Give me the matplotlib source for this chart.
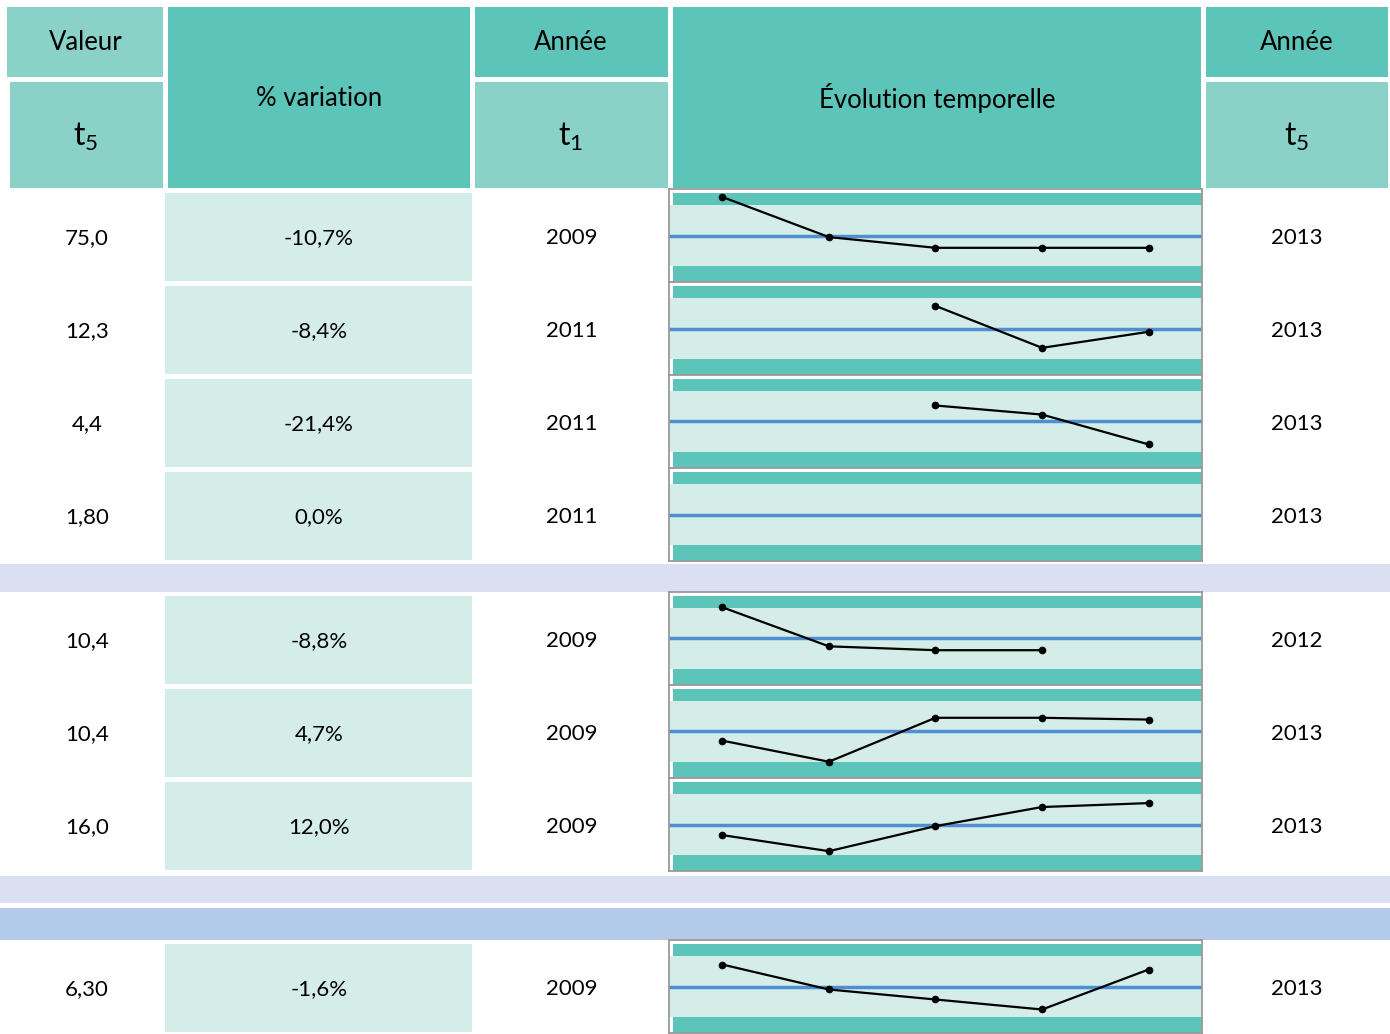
import numpy as np
import matplotlib
matplotlib.use("Agg")
import matplotlib.pyplot as plt
from matplotlib.patches import Rectangle

plt.rcParams['font.family'] = ['Lato', 'DejaVu Sans']
plt.rcParams['mathtext.fontset'] = 'custom'
plt.rcParams['mathtext.rm'] = 'Lato'

# données du tableau
valeurs = ["75,0", "12,3", "4,4", "1,80", "10,4", "10,4", "16,0", "6,30"]
variations = ["-10,7%", "-8,4%", "-21,4%", "0,0%", "-8,8%", "4,7%", "12,0%", "-1,6%"]
annee_t1 = [2009, 2011, 2011, 2011, 2009, 2009, 2009, 2009]
annee_t5 = [2013, 2013, 2013, 2013, 2012, 2013, 2013, 2013]

# séries temporelles (2009-2013), nan = pas de valeur
annees = [2009, 2010, 2011, 2012, 2013]
nan = np.nan
series = [
    [84.0, 76.9, 75.0, 75.0, 75.0],
    [nan, nan, 13.43, 11.6, 12.3],
    [nan, nan, 5.6, 5.32, 4.4],
    [nan, nan, nan, nan, nan],
    [11.4, 10.49, 10.4, 10.4, nan],
    [9.93, 9.46, 10.44, 10.44, 10.4],
    [14.29, 13.43, 14.77, 15.79, 16.0],
    [6.40, 5.90, 5.70, 5.50, 6.30],
]
# demi-largeur de la zone claire autour de la moyenne
limites = [5.4, 1.33, 0.94, 0.1, 0.71, 0.68, 1.63, 0.61]
centre_vide = [None, None, None, 1.80, None, None, None, None]

W, H = 1390, 1034
TEAL = "#5CC4B8"
TEAL_L = "#8AD1C7"
PALE = "#D5EDE8"
BLEU = "#4F8FD0"
LAVANDE = "#DAE0F2"
BLEU_L = "#B4CAE9"

fig = plt.figure(figsize=(W / 100, H / 100), dpi=100)
ax = fig.add_axes([0, 0, 1, 1])
ax.set_xlim(0, W)
ax.set_ylim(H, 0)
ax.axis('off')


def rect(x0, y0, x1, y1, color):
    ax.add_patch(Rectangle((x0, y0), x1 - x0, y1 - y0, color=color, lw=0))


# en-têtes
rect(7, 7, 163, 77, TEAL_L)
rect(10, 82, 163, 188, TEAL_L)
rect(168, 7, 470, 188, TEAL)
rect(475, 7, 668, 77, TEAL)
rect(475, 82, 668, 188, TEAL_L)
rect(673, 7, 1201, 188, TEAL)
rect(1206, 7, 1388, 77, TEAL)
rect(1206, 82, 1388, 188, TEAL_L)

hfs = 18.5
ax.text(86, 43, "Valeur", ha='center', va='center', fontsize=hfs)
ax.text(86, 137, r"$\mathregular{t_5}$", ha='center', va='center', fontsize=23)
ax.text(319, 98, "% variation", ha='center', va='center', fontsize=hfs)
ax.text(571, 43, "Année", ha='center', va='center', fontsize=hfs)
ax.text(571, 137, r"$\mathregular{t_1}$", ha='center', va='center', fontsize=23)
ax.text(937, 98, "Évolution temporelle", ha='center', va='center', fontsize=hfs)
ax.text(1297, 43, "Année", ha='center', va='center', fontsize=hfs)
ax.text(1297, 137, r"$\mathregular{t_5}$", ha='center', va='center', fontsize=23)

# bandes de séparation
rect(0, 564, W, 592, LAVANDE)
rect(0, 876, W, 903, LAVANDE)
rect(0, 908, W, 940, BLEU_L)

tops = [189, 282, 375, 468, 592, 685, 778, 940]
RH = 93
fs = 16

for i, top in enumerate(tops):
    yc = top + 49
    rect(165, top + 4, 472, top + RH - 1, PALE)
    ax.text(87, yc, valeurs[i], ha='center', va='center', fontsize=fs)
    ax.text(319, yc, variations[i], ha='center', va='center', fontsize=fs)
    ax.text(572, yc, str(annee_t1[i]), ha='center', va='center', fontsize=fs)
    ax.text(1297, yc, str(annee_t5[i]), ha='center', va='center', fontsize=fs)

    # petit graphique
    x0, x1 = 669, 1202
    sax = fig.add_axes([x0 / W, 1 - (top + RH) / H, (x1 - x0) / W, RH / H])
    vals = np.array(series[i], dtype=float)
    if np.all(np.isnan(vals)):
        m = centre_vide[i]
    else:
        m = np.nanmean(vals)
    L = limites[i]
    sax.set_xlim(2008.5, 2013.5)
    sax.set_ylim(m - 1.525 * L, m + 1.525 * L)
    sax.set_facecolor("white")
    xm = 4 / (x1 - x0)
    sax.axhspan(m - L, m + L, color=PALE, lw=0)
    sax.axhspan(m + L, m + 1.393 * L, xmin=xm, color=TEAL, lw=0)
    sax.axhspan(m - 1.525 * L, m - L, xmin=xm, color=TEAL, lw=0)
    sax.axhline(m, color=BLEU, lw=2.5)
    sax.plot(annees, vals, color='black', lw=1.6, marker='o', ms=4.5)
    sax.set_xticks([])
    sax.set_yticks([])
    for s in sax.spines.values():
        s.set_color("#9A9A9A")
        s.set_linewidth(1.3)

fig.savefig("out.png", dpi=100)
